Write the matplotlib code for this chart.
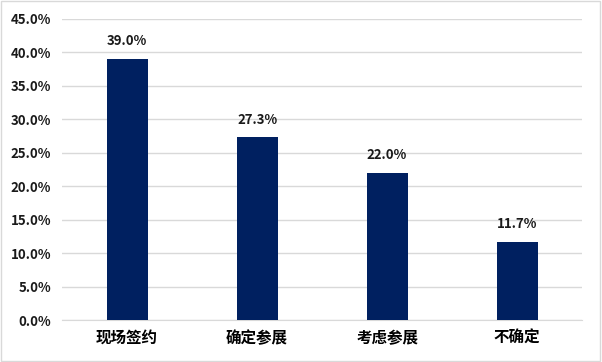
import matplotlib.pyplot as plt
from matplotlib.patches import Rectangle
from matplotlib.ticker import FuncFormatter

plt.rcParams['font.family'] = ['Noto Sans CJK SC', 'DejaVu Sans']

categories = ['现场签约', '确定参展', '考虑参展', '不确定']
values = [39.0, 27.3, 22.0, 11.7]
yticks = [0, 5, 10, 15, 20, 25, 30, 35, 40, 45]


def main():
    fig = plt.figure(figsize=(6.02, 3.62), dpi=100)
    ax = fig.add_axes([0.103, 0.116, 0.864, 0.832])

    x = range(len(categories))
    ax.bar(x, values, width=0.315, color='#002060', zorder=3)

    # etiquetas de valor
    for i, v in zip(x, values):
        ax.text(i, v + 1.6, f'{v:.1f}%', ha='center', va='bottom',
                fontsize=9.5, fontweight='bold', color='#1a1a1a')

    ax.set_xlim(-0.5, len(categories) - 0.5)
    ax.set_ylim(0, 45)
    ax.set_yticks(yticks)
    ax.yaxis.set_major_formatter(FuncFormatter(lambda v, p: f'{v:.1f}%'))
    ax.set_xticks(list(x))
    ax.set_xticklabels(categories)

    ax.grid(axis='y', color='#d9d9d9', linewidth=1, zorder=0)
    for s in ['top', 'right', 'left']:
        ax.spines[s].set_visible(False)
    ax.spines['bottom'].set_color('#d9d9d9')
    ax.tick_params(axis='both', length=0)
    ax.tick_params(axis='y', pad=8)
    ax.tick_params(axis='x', pad=7)
    for lbl in ax.get_yticklabels():
        lbl.set_fontweight('bold')
        lbl.set_fontsize(9.5)
        lbl.set_color('#1a1a1a')
    for lbl in ax.get_xticklabels():
        lbl.set_fontweight('bold')
        lbl.set_fontsize(11.2)
        lbl.set_color('#000000')

    # borde exterior
    fig.patches.append(Rectangle((0.002, 0.003), 0.995, 0.993, transform=fig.transFigure,
                                 fill=False, edgecolor='#d9d9d9', linewidth=1))

    plt.savefig('out.png', dpi=100)


if __name__ == "__main__":
    main()
